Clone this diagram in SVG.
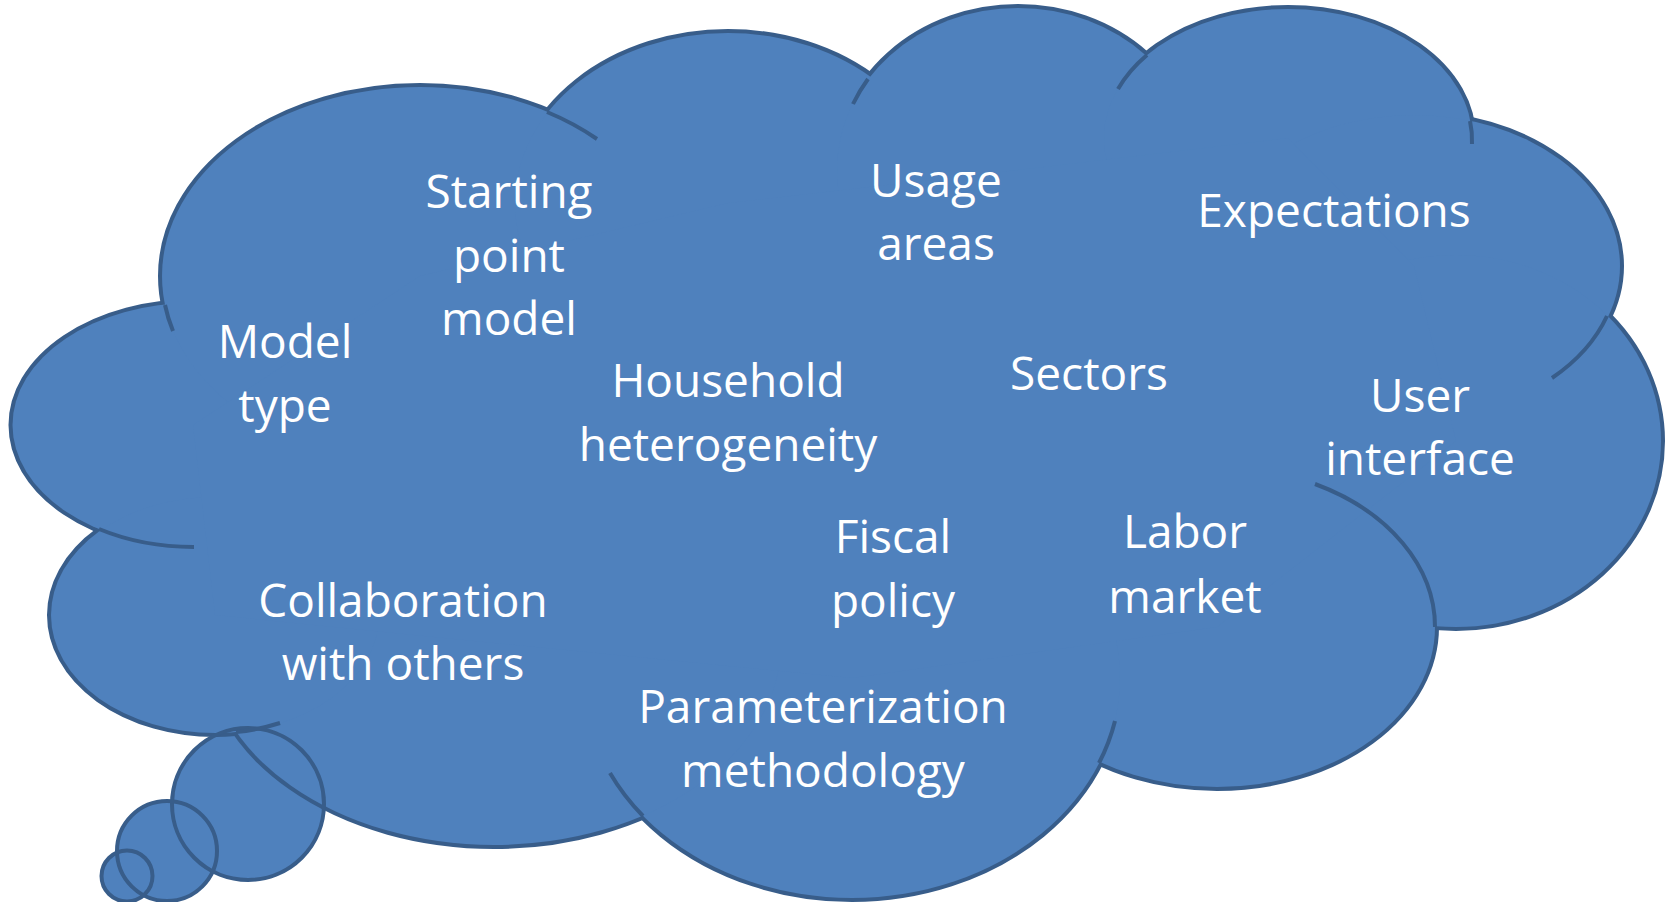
<svg xmlns="http://www.w3.org/2000/svg" xmlns:xlink="http://www.w3.org/1999/xlink" width="1667" height="902" viewBox="0 0 1667 902">
<style>
.lobe-line{fill:none;stroke:#385D8A;stroke-width:8}
.lobe-fill{fill:#4F81BD;stroke:none}
.bubble-fill{fill:#4F81BD;stroke:none}
.bubble-line{fill:none;stroke:#385D8A;stroke-width:4}
.edge{fill:none;stroke:#385D8A;stroke-width:4}
.lbl{font-family:"Open Sans","Liberation Sans",sans-serif;font-size:46px;fill:#FFFFFF;text-anchor:middle}
</style>
<defs>
<g id="lobes">
<ellipse cx="193.5" cy="425" rx="181" ry="122"/>
<ellipse cx="420" cy="276" rx="258" ry="189"/>
<ellipse cx="728" cy="203" rx="213" ry="170"/>
<ellipse cx="1018" cy="170" rx="181" ry="162"/>
<ellipse cx="1288" cy="138" rx="184" ry="129"/>
<ellipse cx="1414" cy="266" rx="206" ry="151"/>
<ellipse cx="1456" cy="441" rx="205" ry="186"/>
<ellipse cx="1217" cy="627" rx="218" ry="160"/>
<ellipse cx="852" cy="678" rx="268" ry="220"/>
<ellipse cx="494" cy="643" rx="287" ry="202"/>
<ellipse cx="215" cy="615" rx="164" ry="118"/>
</g>
<g id="bubbles">
<circle cx="248" cy="804" r="76"/>
<circle cx="167" cy="851" r="50"/>
<circle cx="127" cy="876" r="25.5"/>
</g>
</defs>
<g id="cloud">
<use href="#bubbles" xlink:href="#bubbles" class="bubble-fill"/>
<use href="#lobes" xlink:href="#lobes" class="lobe-line"/>
<use href="#lobes" xlink:href="#lobes" class="lobe-fill"/>
<polygon class="lobe-fill" points="193,425 420,276 728,203 1018,170 1288,138 1414,266 1456,441 1217,627 852,678 494,643 215,615"/>
<use href="#bubbles" xlink:href="#bubbles" class="bubble-line"/>
<path class="edge" d="M165 305 A258 189 0 0 0 173 331"/>
<path class="edge" d="M547 112 A258 189 0 0 1 597 139"/>
<path class="edge" d="M868 79 A181 162 0 0 0 853 104"/>
<path class="edge" d="M1147 55 A184 129 0 0 0 1118 89"/>
<path class="edge" d="M1470 121 A184 129 0 0 1 1472 144"/>
<path class="edge" d="M1607 316 A206 151 0 0 1 1552 378"/>
<path class="edge" d="M1315 484 A218 160 0 0 1 1435 627"/>
<path class="edge" d="M1099 763 A268 220 0 0 0 1115 721"/>
<path class="edge" d="M643 816 A268 220 0 0 1 610 773"/>
<path class="edge" d="M236 732 A164 118 0 0 0 280 723"/>
<path class="edge" d="M99 529 A181 122 0 0 0 194 547"/>
</g>
<g id="label-starting-point-model"><text class="lbl" x="509" y="208">Starting</text><text class="lbl" x="509" y="272">point</text><text class="lbl" x="509" y="335">model</text></g>
<g id="label-model-type"><text class="lbl" x="285" y="358">Model</text><text class="lbl" x="285" y="422">type</text></g>
<g id="label-household"><text class="lbl" x="728" y="397">Household</text><text class="lbl" x="728" y="461">heterogeneity</text></g>
<g id="label-usage-areas"><text class="lbl" x="936" y="197">Usage</text><text class="lbl" x="936" y="260">areas</text></g>
<g id="label-expectations"><text class="lbl" x="1334" y="227">Expectations</text></g>
<g id="label-sectors"><text class="lbl" x="1089" y="390">Sectors</text></g>
<g id="label-user-interface"><text class="lbl" x="1420" y="412">User</text><text class="lbl" x="1420" y="475">interface</text></g>
<g id="label-fiscal-policy"><text class="lbl" x="893" y="553">Fiscal</text><text class="lbl" x="893" y="617">policy</text></g>
<g id="label-labor-market"><text class="lbl" x="1185" y="548">Labor</text><text class="lbl" x="1185" y="613">market</text></g>
<g id="label-collaboration"><text class="lbl" x="403" y="617">Collaboration</text><text class="lbl" x="403" y="680">with others</text></g>
<g id="label-parameterization"><text class="lbl" x="823" y="723">Parameterization</text><text class="lbl" x="823" y="787">methodology</text></g>
</svg>
